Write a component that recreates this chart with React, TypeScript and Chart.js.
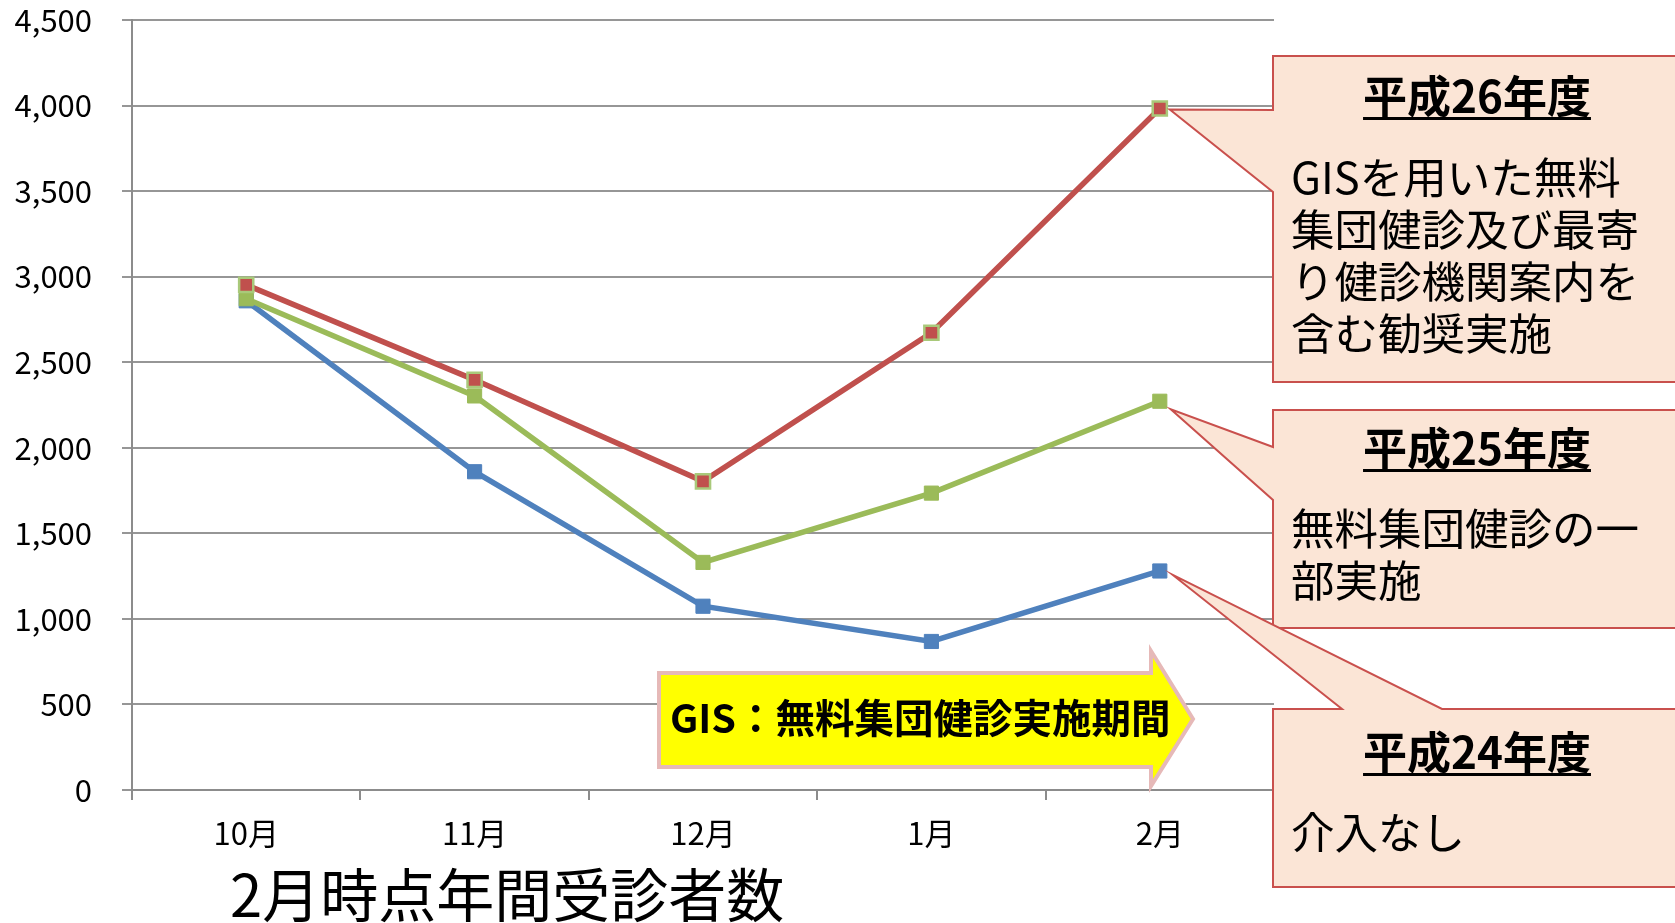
import React, { useEffect, useRef } from 'react';
import { Chart, registerables } from 'chart.js';

Chart.register(...registerables);

const categories = ['10月', '11月', '12月', '1月', '2月'];
const seriesH26 = [2952, 2397, 1804, 2672, 3983];
const seriesH25 = [2871, 2303, 1330, 1735, 2272];
const seriesH24 = [2859, 1860, 1074, 868, 1280];
const yMin = 0;
const yMax = 4500;
const yStep = 500;

const chartTitle = '2月時点年間受診者数';
const arrowLabel = 'GIS：無料集団健診実施期間';
const calloutTitles = ['平成26年度', '平成25年度', '平成24年度'];
const calloutBodies = [
  ['GISを用いた無料', '集団健診及び最寄', 'り健診機関案内を', '含む勧奨実施'],
  ['無料集団健診の一', '部実施'],
  ['介入なし'],
];

const FONT = '"Noto Sans CJK JP", "Noto Sans CJK SC", sans-serif';
const RED = '#C0504D';
const GREEN = '#9BBB59';
const BLUE = '#4F81BD';
const CALLOUT_FILL = '#FBE5D6';
const CALLOUT_STROKE = '#C9504D';

const annotationPlugin = {
  id: 'annotations',
  afterDraw(chart: any) {
    const ctx = chart.ctx as CanvasRenderingContext2D;
    ctx.save();

    // Arrow
    ctx.beginPath();
    ctx.moveTo(659, 673);
    ctx.lineTo(1151, 673);
    ctx.lineTo(1151, 651);
    ctx.lineTo(1193, 719);
    ctx.lineTo(1151, 786);
    ctx.lineTo(1151, 767);
    ctx.lineTo(659, 767);
    ctx.closePath();
    ctx.fillStyle = '#FFFF00';
    ctx.fill();
    ctx.lineWidth = 4;
    ctx.strokeStyle = '#E6B9B8';
    ctx.lineJoin = 'miter';
    ctx.stroke();
    ctx.fillStyle = '#000';
    ctx.font = `bold 39.5px ${FONT}`;
    ctx.textAlign = 'left';
    ctx.textBaseline = 'middle';
    ctx.fillText(arrowLabel, 670, 718);

    // data point positions at 2月
    const pRed = chart.getDatasetMeta(0).data[4];
    const pGreen = chart.getDatasetMeta(1).data[4];
    const pBlue = chart.getDatasetMeta(2).data[4];

    const L = 1273;
    const R = 1690;
    const shapes: Array<Array<[number, number]>> = [
      [[L, 56], [R, 56], [R, 382], [L, 382], [L, 192], [pRed.x + 10, pRed.y + 1], [L, 110]],
      [[L, 410], [R, 410], [R, 628], [L, 628], [L, 500], [pGreen.x + 11, pGreen.y + 8], [L, 447]],
      [[L, 709], [1342, 709], [pBlue.x + 13, pBlue.y + 4], [1442, 709], [R, 709], [R, 887], [L, 887]],
    ];
    shapes.forEach((pts) => {
      ctx.beginPath();
      pts.forEach(([x, y], i) => (i === 0 ? ctx.moveTo(x, y) : ctx.lineTo(x, y)));
      ctx.closePath();
      ctx.fillStyle = CALLOUT_FILL;
      ctx.fill();
      ctx.lineWidth = 2;
      ctx.strokeStyle = CALLOUT_STROKE;
      ctx.stroke();
    });

    const titleY = [96, 448, 752];
    const bodyY = [[177, 229, 281, 333], [528, 580], [832]];
    const titleCx = 1477;
    calloutTitles.forEach((t, i) => {
      ctx.font = `bold 44px ${FONT}`;
      ctx.textAlign = 'center';
      ctx.textBaseline = 'middle';
      ctx.fillStyle = '#000';
      ctx.fillText(t, titleCx, titleY[i]);
      const w = ctx.measureText(t).width;
      ctx.fillRect(titleCx - w / 2, titleY[i] + 21, w, 3);
      ctx.font = `43.5px ${FONT}`;
      ctx.textAlign = 'left';
      calloutBodies[i].forEach((line, j) => {
        ctx.fillText(line, 1291, bodyY[i][j]);
      });
    });

    // bottom title
    ctx.font = `58px ${FONT}`;
    ctx.textAlign = 'left';
    ctx.textBaseline = 'middle';
    ctx.fillStyle = '#000';
    ctx.fillText(chartTitle, 230, 895);

    ctx.restore();
  },
};

export default function App() {
  const ref = useRef<HTMLCanvasElement | null>(null);
  useEffect(() => {
    if (!ref.current) return;
    const chart = new Chart(ref.current, {
      type: 'line',
      data: {
        labels: categories,
        datasets: [
          {
            label: '平成26年度',
            data: seriesH26,
            borderColor: RED,
            backgroundColor: RED,
            pointBackgroundColor: RED,
            pointBorderColor: '#A9C97A',
            pointBorderWidth: 2.5,
            borderWidth: 5.5,
            pointStyle: 'rect',
            pointRadius: 10,
            tension: 0,
          },
          {
            label: '平成25年度',
            data: seriesH25,
            borderColor: GREEN,
            backgroundColor: GREEN,
            pointBackgroundColor: GREEN,
            pointBorderColor: GREEN,
            pointBorderWidth: 1,
            borderWidth: 5.5,
            pointStyle: 'rect',
            pointRadius: 10,
            tension: 0,
          },
          {
            label: '平成24年度',
            data: seriesH24,
            borderColor: BLUE,
            backgroundColor: BLUE,
            pointBackgroundColor: BLUE,
            pointBorderColor: BLUE,
            pointBorderWidth: 1,
            borderWidth: 5.5,
            pointStyle: 'rect',
            pointRadius: 10,
            tension: 0,
          },
        ],
      },
      options: {
        responsive: false,
        animation: false,
        layout: { padding: { left: 0, top: 20, right: 401, bottom: 0 } },
        plugins: {
          legend: { display: false },
          tooltip: { enabled: false },
          title: { display: false },
        },
        scales: {
          x: {
            offset: true,
            grid: {
              offset: true,
              drawOnChartArea: false,
              drawTicks: true,
              tickLength: 10,
              color: '#8C8C8C',
              lineWidth: 2,
            },
            border: { display: true, color: '#8C8C8C', width: 2 },
            ticks: {
              font: { family: FONT, size: 31 },
              color: '#000',
              padding: 15,
              maxRotation: 0,
            },
            afterFit: (scale: any) => {
              scale.height = 133;
              scale.paddingLeft = 0;
              scale.paddingRight = 0;
            },
          },
          y: {
            min: yMin,
            max: yMax,
            grid: {
              color: '#969696',
              lineWidth: 2,
              tickLength: 10,
            },
            border: { display: true, color: '#8C8C8C', width: 2 },
            ticks: {
              stepSize: yStep,
              font: { family: FONT, size: 31 },
              color: '#000',
              padding: 30,
              callback: (v: any) => Number(v).toLocaleString('en-US'),
            },
            afterFit: (scale: any) => {
              scale.width = 132;
              scale.paddingTop = 0;
              scale.paddingBottom = 0;
            },
          },
        },
      },
      plugins: [annotationPlugin],
    });
    return () => chart.destroy();
  }, []);
  return (
    <div style={{ position: 'absolute', left: 0, top: 0, width: 1675, height: 923, background: '#fff', overflow: 'hidden' }}>
      <canvas ref={ref} width={1675} height={923} style={{ width: 1675, height: 923, display: 'block' }} />
    </div>
  );
}
